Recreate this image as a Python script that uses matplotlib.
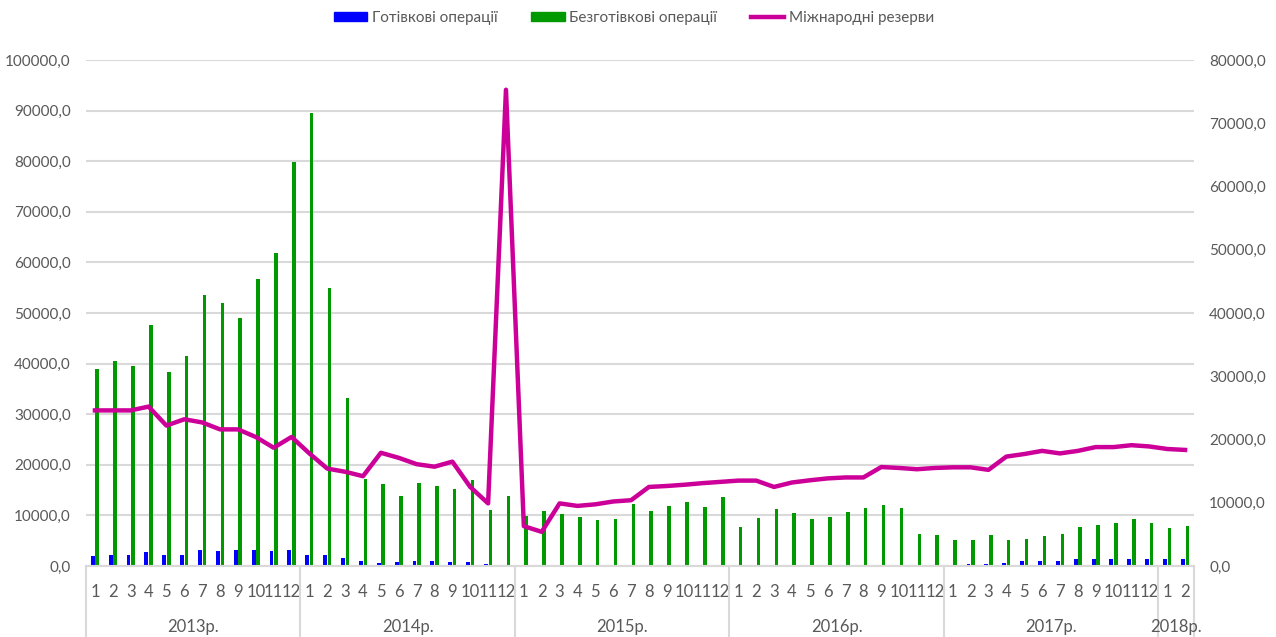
import matplotlib
matplotlib.use('Agg')
import matplotlib.pyplot as plt
from matplotlib.lines import Line2D
from matplotlib.patches import Patch
from matplotlib.ticker import FuncFormatter, MultipleLocator
import numpy as np

plt.rcParams['font.family'] = ['Lato', 'DejaVu Sans']

years = ["2013р.", "2014р.", "2015р.", "2016р.", "2017р.", "2018р."]
months_per_year = [12, 12, 12, 12, 12, 2]
month_labels = [str(m) for n in months_per_year for m in range(1, n + 1)]

# Готівкові операції (ліва вісь)
cash_ops = [2000, 2250, 2250, 2850, 2250, 2250, 3250, 3050, 3250, 3250, 3050, 3250,
            2250, 2250, 1500, 900, 500, 700, 900, 900, 700, 700, 300, 0,
            0, 0, 0, 0, 0, 0, 0, 0, 0, 0, 0, 0,
            0, 0, 0, 150, 150, 150, 150, 0, 150, 0, 0, 0,
            0, 300, 450, 650, 1050, 1050, 1050, 1300, 1300, 1300, 1300, 1300,
            1300, 1300]

# Безготівкові операції (ліва вісь)
noncash_ops = [39000, 40500, 39600, 47600, 38400, 41600, 53500, 52000, 49100, 56800, 61800, 79800,
               89600, 55000, 33200, 17100, 16200, 13800, 16400, 15900, 15200, 16900, 11000, 13800,
               9800, 10900, 10300, 9750, 9150, 9350, 12300, 10900, 11900, 12700, 11700, 13700,
               7800, 9550, 11300, 10500, 9350, 9750, 10700, 11500, 12100, 11500, 6400, 6200,
               5200, 5200, 6200, 5200, 5400, 5850, 6400, 7800, 8200, 8550, 9350, 8550,
               7600, 8000]

# Міжнародні резерви (права вісь)
reserves = [24600, 24600, 24600, 25200, 22200, 23200, 22700, 21600, 21600, 20400, 18700, 20400,
            17800, 15400, 14900, 14200, 17900, 17100, 16100, 15700, 16500, 12500, 9900, 75300,
            6300, 5400, 9900, 9500, 9750, 10200, 10400, 12500, 12650, 12850, 13100, 13300,
            13500, 13500, 12500, 13200, 13550, 13850, 14000, 14000, 15650, 15500, 15300, 15500,
            15600, 15600, 15200, 17300, 17700, 18200, 17800, 18200, 18800, 18800, 19100, 18900,
            18500, 18350]

BLUE = '#0000FF'
GREEN = '#009900'
MAGENTA = '#CC0099'
GREY_TXT = '#595959'
GRID = '#D9D9D9'

fig = plt.figure(figsize=(12.76, 6.37), dpi=100)
ax = fig.add_axes([86 / 1276, 1 - 566 / 637, (1194 - 86) / 1276, (566 - 60) / 637])
ax2 = ax.twinx()

x = np.arange(len(month_labels))
ax.bar(x - 0.12, cash_ops, width=0.22, color=BLUE, zorder=2)
ax.bar(x + 0.13, noncash_ops, width=0.2, color=GREEN, zorder=2)
ax2.plot(x, reserves, color=MAGENTA, linewidth=3.2, solid_joinstyle='round', zorder=3)

ax.set_xlim(-0.5, len(x) - 0.5)
ax.set_ylim(0, 100000)
ax2.set_ylim(0, 80000)
ax.yaxis.set_major_locator(MultipleLocator(10000))
ax2.yaxis.set_major_locator(MultipleLocator(10000))
fmt = FuncFormatter(lambda v, p: f"{v:.1f}".replace('.', ','))
ax.yaxis.set_major_formatter(fmt)
ax2.yaxis.set_major_formatter(fmt)

ax.grid(True, axis='y', color=GRID, linewidth=1.5, zorder=0)
ax.set_axisbelow(True)
for a in (ax, ax2):
    for s in a.spines.values():
        s.set_visible(False)
ax.spines['bottom'].set_visible(True)
ax.spines['bottom'].set_color(GRID)
ax.spines['bottom'].set_linewidth(1.5)

ax.tick_params(axis='y', length=0, pad=11, labelsize=11, labelcolor=GREY_TXT)
ax2.tick_params(axis='y', length=0, pad=11, labelsize=11, labelcolor=GREY_TXT)
ax.set_xticks(x)
ax.set_xticklabels(month_labels)
ax.tick_params(axis='x', length=0, pad=13, labelsize=12, labelcolor=GREY_TXT)

# групування за роками
trans = ax.get_xaxis_transform()
start = -0.5
bounds = [start]
for yr, n in zip(years, months_per_year):
    end = start + n
    ax.text((start + end) / 2, -0.12, yr, transform=trans, ha='center', va='center',
            fontsize=12, color=GREY_TXT)
    bounds.append(end)
    start = end
for b in bounds:
    ax.plot([b, b], [0, -0.15], transform=trans, color=GRID, linewidth=1.5, clip_on=False)

handles = [Patch(color=BLUE), Patch(color=GREEN), Line2D([0], [0], color=MAGENTA, linewidth=3.2)]
labels = ["Готівкові операції", "Безготівкові операції", "Міжнародні резерви"]
fig.legend(handles, labels, loc='center', bbox_to_anchor=(634 / 1276, 1 - 18 / 637), ncol=3,
           frameon=False, fontsize=11, labelcolor=GREY_TXT, handlelength=2.2, handleheight=0.6,
           handletextpad=0.3, columnspacing=2.2)

fig.savefig('out.png', dpi=100)
